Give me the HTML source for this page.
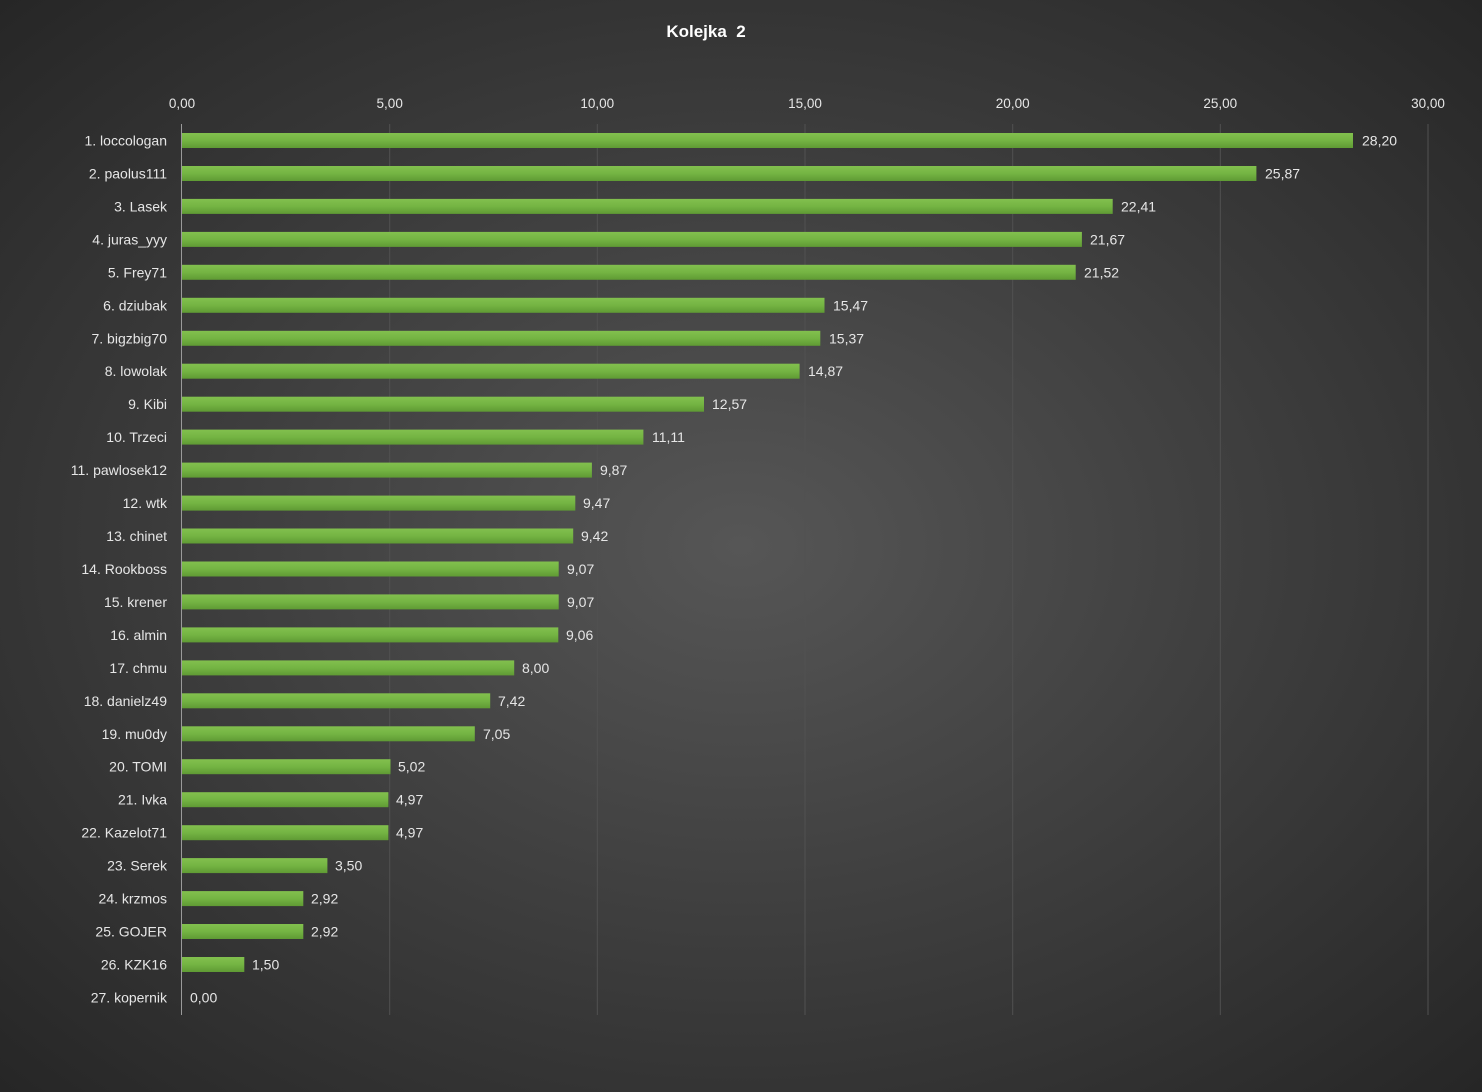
<!DOCTYPE html>
<html><head><meta charset="utf-8"><style>
html,body{margin:0;padding:0;}
body{width:1482px;height:1092px;overflow:hidden;background:radial-gradient(ellipse at 50% 50%,#565656 0%,#404040 45%,#262626 100%);}
svg{display:block;font-family:"Liberation Sans",sans-serif;}
</style></head><body>
<svg width="1482" height="1092" viewBox="0 0 1482 1092">
<defs><linearGradient id="g" x1="0" y1="0" x2="0" y2="1"><stop offset="0" stop-color="#82c04e"/><stop offset="0.5" stop-color="#74b443"/><stop offset="1" stop-color="#5f9a34"/></linearGradient></defs>
<text x="706" y="37" fill="#fff" font-size="17" font-weight="bold" text-anchor="middle">Kolejka&#160; 2</text>
<g stroke="#515151" stroke-width="1">
<line x1="389.7" y1="124" x2="389.7" y2="1015"/><line x1="597.3" y1="124" x2="597.3" y2="1015"/><line x1="805" y1="124" x2="805" y2="1015"/><line x1="1012.7" y1="124" x2="1012.7" y2="1015"/><line x1="1220.3" y1="124" x2="1220.3" y2="1015"/><line x1="1428" y1="124" x2="1428" y2="1015"/>
</g>
<line x1="181.5" y1="124" x2="181.5" y2="1015" stroke="#9a9a9a"/>
<g fill="#e6e6e6" font-size="13.5" text-anchor="middle">
<text x="182" y="108">0,00</text><text x="389.7" y="108">5,00</text><text x="597.3" y="108">10,00</text><text x="805" y="108">15,00</text><text x="1012.7" y="108">20,00</text><text x="1220.3" y="108">25,00</text><text x="1428" y="108">30,00</text>
</g>
<g fill="url(#g)">
<rect x="182" y="133" width="1171" height="15"/>
<rect x="182" y="166" width="1074.4" height="15"/>
<rect x="182" y="198.9" width="930.7" height="15"/>
<rect x="182" y="231.9" width="899.9" height="15"/>
<rect x="182" y="264.8" width="893.7" height="15"/>
<rect x="182" y="297.8" width="642.5" height="15"/>
<rect x="182" y="330.8" width="638.3" height="15"/>
<rect x="182" y="363.7" width="617.6" height="15"/>
<rect x="182" y="396.7" width="522" height="15"/>
<rect x="182" y="429.6" width="461.4" height="15"/>
<rect x="182" y="462.6" width="409.9" height="15"/>
<rect x="182" y="495.6" width="393.3" height="15"/>
<rect x="182" y="528.5" width="391.2" height="15"/>
<rect x="182" y="561.5" width="376.7" height="15"/>
<rect x="182" y="594.4" width="376.7" height="15"/>
<rect x="182" y="627.4" width="376.3" height="15"/>
<rect x="182" y="660.4" width="332.2" height="15"/>
<rect x="182" y="693.3" width="308.2" height="15"/>
<rect x="182" y="726.3" width="292.8" height="15"/>
<rect x="182" y="759.2" width="208.5" height="15"/>
<rect x="182" y="792.2" width="206.4" height="15"/>
<rect x="182" y="825.2" width="206.4" height="15"/>
<rect x="182" y="858.1" width="145.4" height="15"/>
<rect x="182" y="891.1" width="121.3" height="15"/>
<rect x="182" y="924" width="121.3" height="15"/>
<rect x="182" y="957" width="62.3" height="15"/>
</g>
<g fill="#e6e6e6" font-size="14" text-anchor="end">
<text x="167" y="145.5">1. loccologan</text>
<text x="167" y="178.5">2. paolus111</text>
<text x="167" y="211.4">3. Lasek</text>
<text x="167" y="244.4">4. juras_yyy</text>
<text x="167" y="277.3">5. Frey71</text>
<text x="167" y="310.3">6. dziubak</text>
<text x="167" y="343.3">7. bigzbig70</text>
<text x="167" y="376.2">8. lowolak</text>
<text x="167" y="409.2">9. Kibi</text>
<text x="167" y="442.1">10. Trzeci</text>
<text x="167" y="475.1">11. pawlosek12</text>
<text x="167" y="508.1">12. wtk</text>
<text x="167" y="541">13. chinet</text>
<text x="167" y="574">14. Rookboss</text>
<text x="167" y="606.9">15. krener</text>
<text x="167" y="639.9">16. almin</text>
<text x="167" y="672.9">17. chmu</text>
<text x="167" y="705.8">18. danielz49</text>
<text x="167" y="738.8">19. mu0dy</text>
<text x="167" y="771.7">20. TOMI</text>
<text x="167" y="804.7">21. Ivka</text>
<text x="167" y="837.7">22. Kazelot71</text>
<text x="167" y="870.6">23. Serek</text>
<text x="167" y="903.6">24. krzmos</text>
<text x="167" y="936.5">25. GOJER</text>
<text x="167" y="969.5">26. KZK16</text>
<text x="167" y="1002.5">27. kopernik</text>
</g>
<g fill="#e6e6e6" font-size="14">
<text x="1362" y="145.5">28,20</text>
<text x="1265" y="178.5">25,87</text>
<text x="1121" y="211.4">22,41</text>
<text x="1090" y="244.4">21,67</text>
<text x="1084" y="277.3">21,52</text>
<text x="833" y="310.3">15,47</text>
<text x="829" y="343.3">15,37</text>
<text x="808" y="376.2">14,87</text>
<text x="712" y="409.2">12,57</text>
<text x="652" y="442.1">11,11</text>
<text x="600" y="475.1">9,87</text>
<text x="583" y="508.1">9,47</text>
<text x="581" y="541">9,42</text>
<text x="567" y="574">9,07</text>
<text x="567" y="606.9">9,07</text>
<text x="566" y="639.9">9,06</text>
<text x="522" y="672.9">8,00</text>
<text x="498" y="705.8">7,42</text>
<text x="483" y="738.8">7,05</text>
<text x="398" y="771.7">5,02</text>
<text x="396" y="804.7">4,97</text>
<text x="396" y="837.7">4,97</text>
<text x="335" y="870.6">3,50</text>
<text x="311" y="903.6">2,92</text>
<text x="311" y="936.5">2,92</text>
<text x="252" y="969.5">1,50</text>
<text x="190" y="1002.5">0,00</text>
</g>
</svg>
</body></html>
